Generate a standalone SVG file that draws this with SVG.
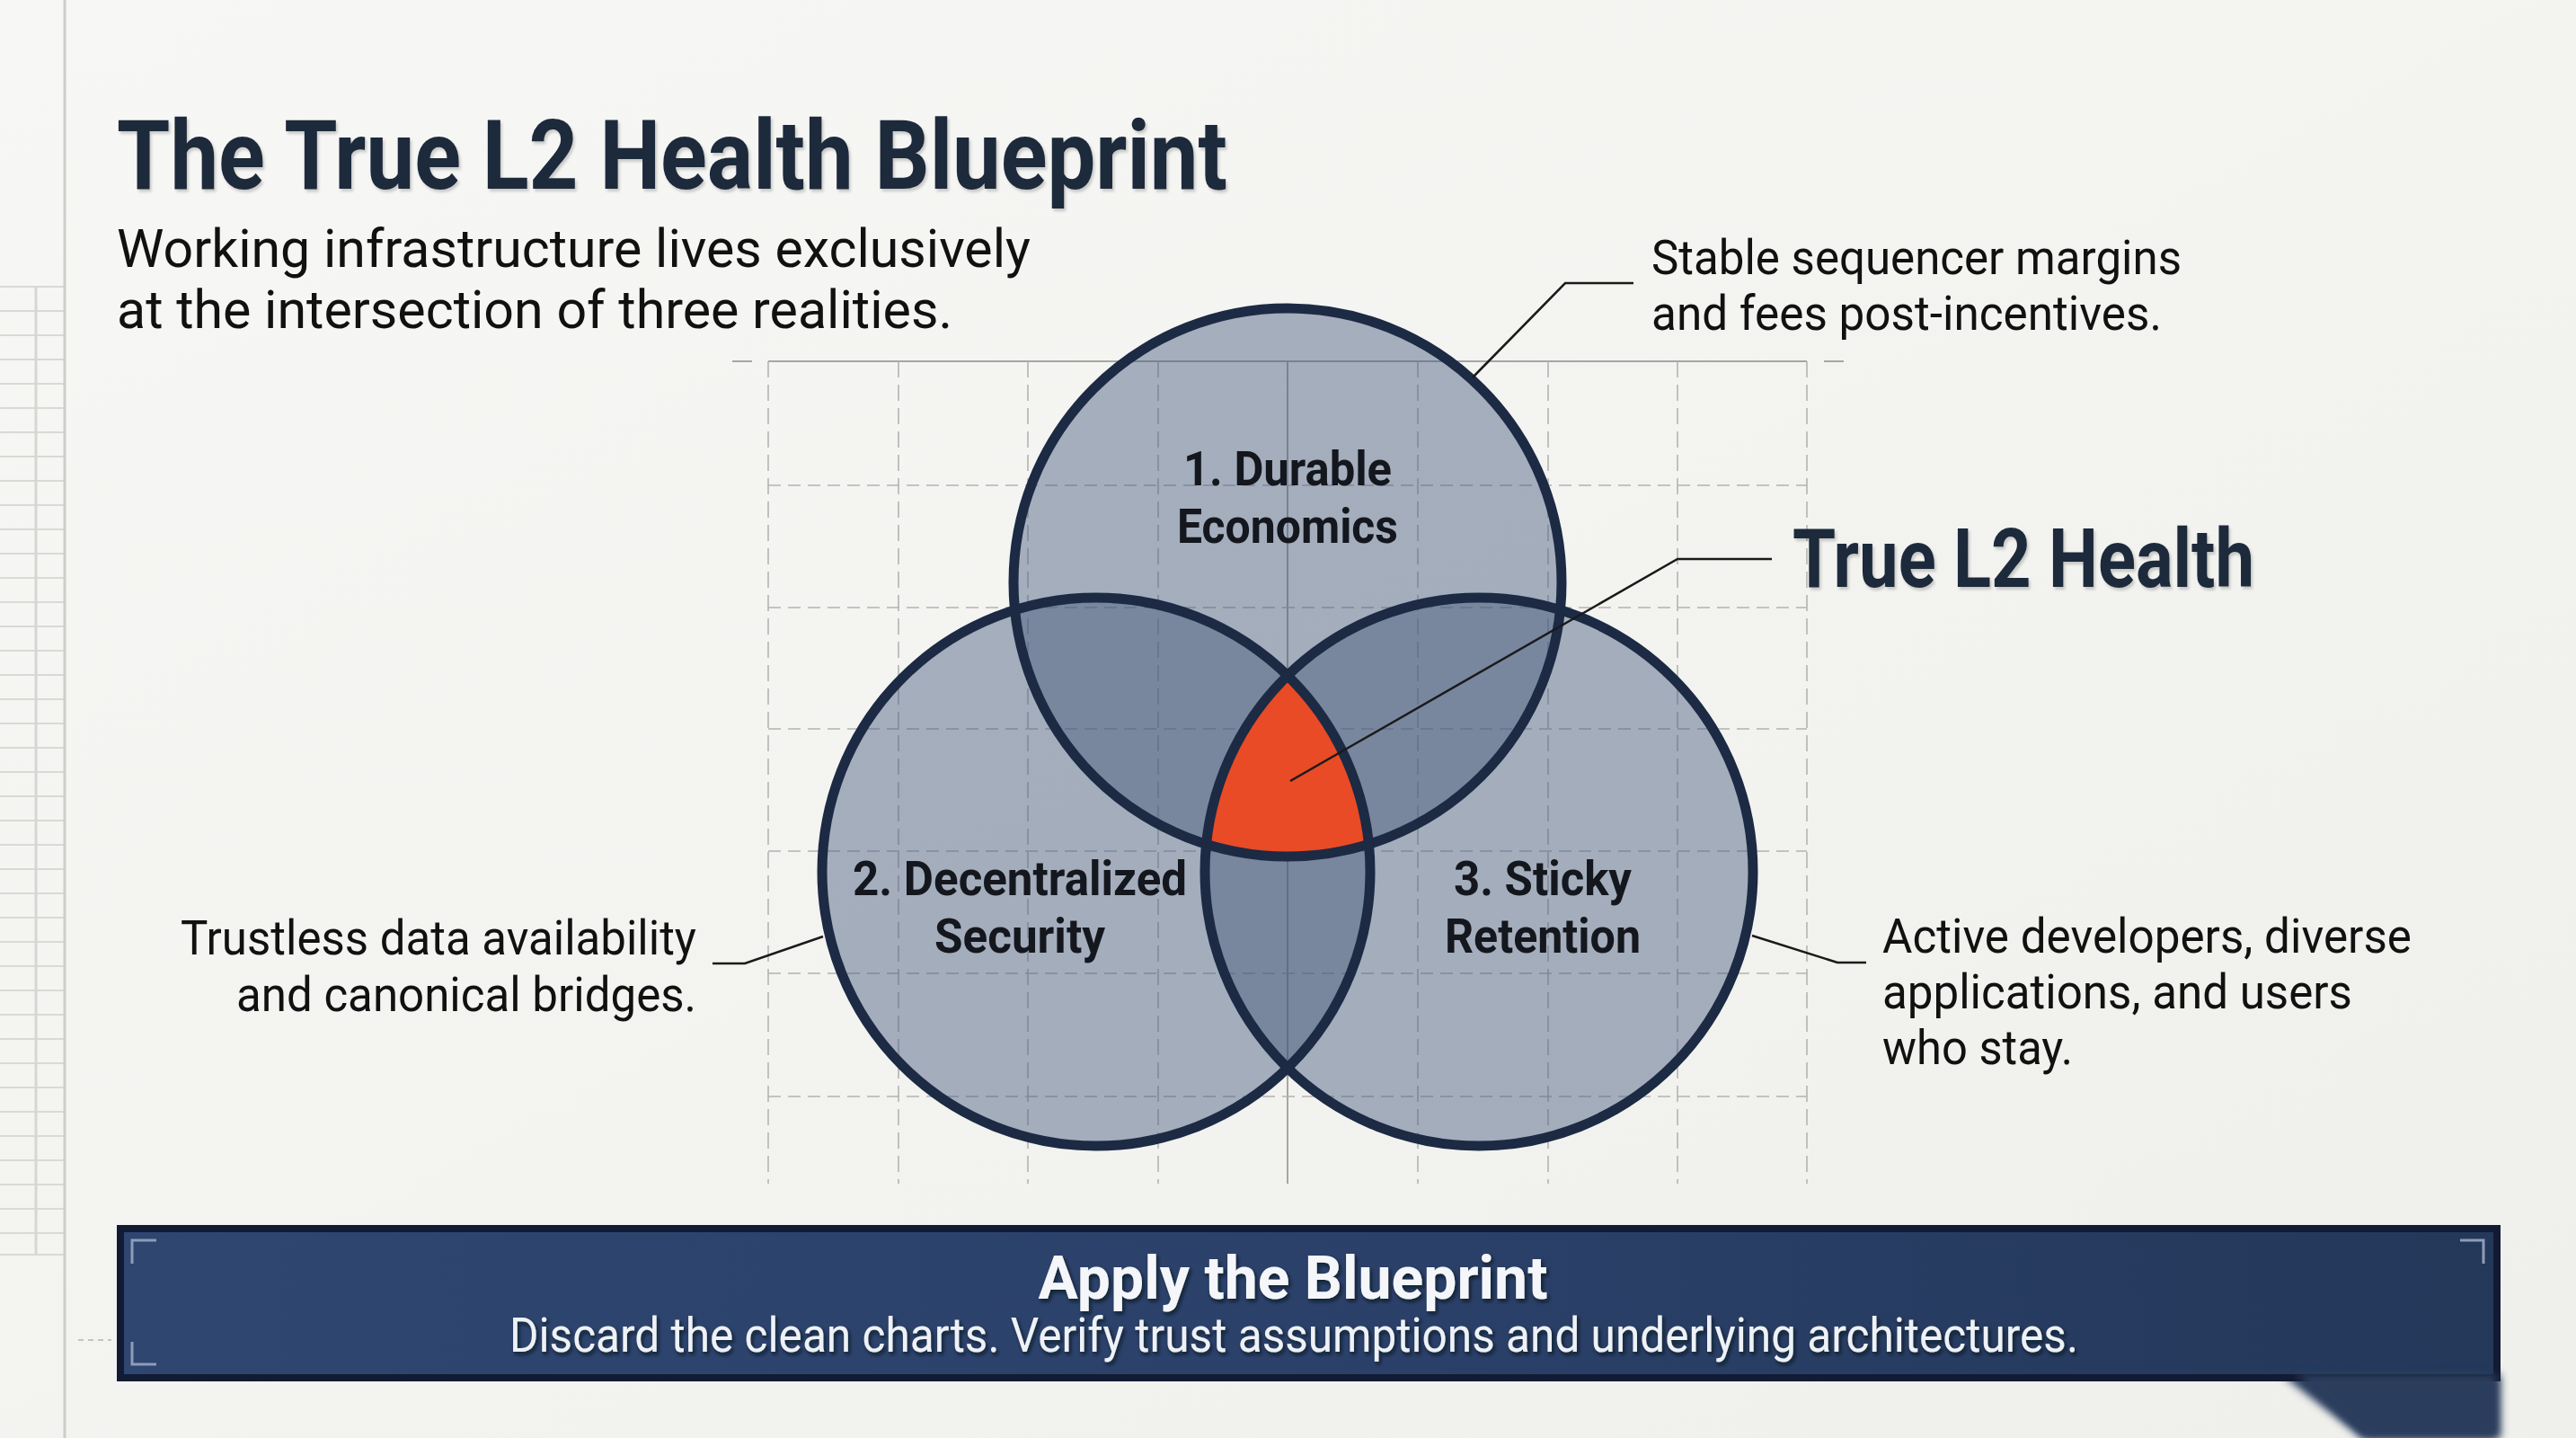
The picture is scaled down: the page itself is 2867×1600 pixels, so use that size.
<svg xmlns="http://www.w3.org/2000/svg" width="2867" height="1600" viewBox="0 0 2867 1600">
  <defs>
    <linearGradient id="bg" x1="0" y1="0" x2="1" y2="1">
      <stop offset="0" stop-color="#f7f7f5"/>
      <stop offset="1" stop-color="#efefec"/>
    </linearGradient>
    <linearGradient id="bannerFill" x1="0" y1="0" x2="1" y2="0">
      <stop offset="0" stop-color="#2e4670"/>
      <stop offset="0.5" stop-color="#2b416a"/>
      <stop offset="1" stop-color="#24385a"/>
    </linearGradient>
    <clipPath id="clipL"><circle cx="1220" cy="970" r="305"/></clipPath>
    <clipPath id="clipR"><circle cx="1646" cy="970" r="305"/></clipPath>
    <filter id="shadow" x="-5%" y="-20%" width="110%" height="150%">
      <feDropShadow dx="2" dy="3" stdDeviation="1.5" flood-color="#000" flood-opacity="0.18"/>
    </filter>
    <filter id="bannerShadow" x="-5%" y="-30%" width="110%" height="160%">
      <feDropShadow dx="2" dy="3" stdDeviation="2" flood-color="#050a18" flood-opacity="0.7"/>
    </filter>
    <filter id="blur" x="-20%" y="-20%" width="140%" height="140%">
      <feGaussianBlur stdDeviation="5"/>
    </filter>
    <style>
      .grid-v { stroke: #b3b3b3; stroke-width: 1.6; stroke-dasharray: 18 8; fill: none; }
      .grid-h { stroke: #b3b3b3; stroke-width: 1.6; stroke-dasharray: 14 8; fill: none; }
      .grid-solid { stroke: #a6a6a6; stroke-width: 2; fill: none; }
      .sheet { stroke: #d9d9d6; stroke-width: 2; fill: none; }
      .set-fill { fill: #3f5478; fill-opacity: 0.44; }
      .set-stroke { fill: none; stroke: #1c2a44; stroke-width: 11; }
      .leader { fill: none; stroke: #1a1a1a; stroke-width: 2.5; }
      .label { font-family: Roboto, "Liberation Sans", sans-serif; font-weight: 700; font-size: 53px; fill: #14171e; text-anchor: middle; }
      .note { font-family: Roboto, "Liberation Sans", sans-serif; font-weight: 400; font-size: 54px; fill: #111; }
      .bracket { fill: none; stroke: #8d9cb8; stroke-width: 3; }
    </style>
  </defs>

  <rect width="2867" height="1600" fill="url(#bg)"/>

  <!-- left spreadsheet decoration -->
  <g id="side-sheet">
    <path class="sheet" d="M0 319H72M0 346H72M0 373H72M0 400H72M0 427H72M0 454H72M0 481H72M0 508H72M0 535H72M0 562H72M0 589H72M0 616H72M0 643H72M0 670H72M0 697H72M0 724H72M0 751H72M0 778H72M0 805H72M0 832H72M0 859H72M0 886H72M0 913H72M0 940H72M0 967H72M0 994H72M0 1021H72M0 1048H72M0 1075H72M0 1102H72M0 1129H72M0 1156H72M0 1183H72M0 1210H72M0 1237H72M0 1264H72M0 1291H72M0 1318H72M0 1345H72M0 1372H72M0 1396H72"/>
    <path d="M40 319V1396" stroke="#d6d6d3" stroke-width="3" fill="none"/>
    <path d="M72 0V1600" stroke="#cdcdca" stroke-width="3" fill="none"/>
    <path d="M87 1491H124" stroke="#c4c4c4" stroke-width="2" stroke-dasharray="6 5" fill="none"/>
  </g>

  <!-- background grid -->
  <g id="grid">
    <path class="grid-solid" d="M855 402H2011"/>
    <path class="grid-solid" d="M815 402H837M2030 402H2052"/>
    <path class="grid-solid" d="M1433 402V1317"/>
    <path class="grid-v" d="M855 402V1317M1000 402V1317M1144 402V1317M1289 402V1317M1578 402V1317M1723 402V1317M1867 402V1317M2011 402V1317"/>
    <path class="grid-h" d="M855 540H2011M855 676H2011M855 811H2011M855 947H2011M855 1083H2011M855 1220H2011"/>
  </g>

  <!-- Venn sets -->
  <g id="set-economics">
    <circle class="set-fill" cx="1433" cy="648" r="305"/>
  </g>
  <g id="set-security">
    <circle class="set-fill" cx="1220" cy="970" r="305"/>
  </g>
  <g id="set-retention">
    <circle class="set-fill" cx="1646" cy="970" r="305"/>
  </g>
  <g id="true-l2-health-core">
    <g clip-path="url(#clipL)">
      <circle cx="1433" cy="648" r="305" fill="#e84b25" clip-path="url(#clipR)"/>
    </g>
  </g>
  <g id="set-outlines">
    <circle class="set-stroke" cx="1433" cy="648" r="305"/>
    <circle class="set-stroke" cx="1220" cy="970" r="305"/>
    <circle class="set-stroke" cx="1646" cy="970" r="305"/>
  </g>

  <!-- connectors -->
  <g id="connectors">
    <path class="leader" d="M1639 420L1742 315H1818"/>
    <path class="leader" d="M1436 869L1867 622H1972"/>
    <path class="leader" d="M916 1042L829 1072H793"/>
    <path class="leader" d="M1950 1041L2045 1071H2077"/>
  </g>

  <!-- set labels -->
  <g id="label-economics">
    <text class="label" x="1433" y="540" textLength="232" lengthAdjust="spacingAndGlyphs">1. Durable</text>
    <text class="label" x="1433" y="604" textLength="246" lengthAdjust="spacingAndGlyphs">Economics</text>
  </g>
  <g id="label-security">
    <text class="label" x="1135" y="996" textLength="372" lengthAdjust="spacingAndGlyphs">2. Decentralized</text>
    <text class="label" x="1135" y="1060" textLength="190" lengthAdjust="spacingAndGlyphs">Security</text>
  </g>
  <g id="label-retention">
    <text class="label" x="1717" y="996" textLength="198" lengthAdjust="spacingAndGlyphs">3. Sticky</text>
    <text class="label" x="1717" y="1060" textLength="218" lengthAdjust="spacingAndGlyphs">Retention</text>
  </g>

  <!-- annotations -->
  <g id="note-economics">
    <text class="note" x="1838" y="305" textLength="590" lengthAdjust="spacingAndGlyphs">Stable sequencer margins</text>
    <text class="note" x="1838" y="367" textLength="568" lengthAdjust="spacingAndGlyphs">and fees post-incentives.</text>
  </g>
  <g id="note-core">
    <text x="1995" y="653" font-family="Roboto, 'Liberation Sans', sans-serif" font-weight="700" font-size="90" fill="#1e293b" textLength="514" lengthAdjust="spacingAndGlyphs" filter="url(#shadow)">True L2 Health</text>
  </g>
  <g id="note-security">
    <text class="note" x="775" y="1062" text-anchor="end" textLength="574" lengthAdjust="spacingAndGlyphs">Trustless data availability</text>
    <text class="note" x="775" y="1125" text-anchor="end" textLength="512" lengthAdjust="spacingAndGlyphs">and canonical bridges.</text>
  </g>
  <g id="note-retention">
    <text class="note" x="2095" y="1060" textLength="589" lengthAdjust="spacingAndGlyphs">Active developers, diverse</text>
    <text class="note" x="2095" y="1122" textLength="523" lengthAdjust="spacingAndGlyphs">applications, and users</text>
    <text class="note" x="2095" y="1184" textLength="212" lengthAdjust="spacingAndGlyphs">who stay.</text>
  </g>

  <!-- title -->
  <g id="title">
    <text x="130" y="210" font-family="Roboto, 'Liberation Sans', sans-serif" font-weight="700" font-size="108" fill="#1e293b" textLength="1236" lengthAdjust="spacingAndGlyphs" filter="url(#shadow)">The True L2 Health Blueprint</text>
    <text x="130" y="297" font-family="Roboto, 'Liberation Sans', sans-serif" font-size="60" fill="#111" textLength="1017" lengthAdjust="spacingAndGlyphs">Working infrastructure lives exclusively</text>
    <text x="130" y="365" font-family="Roboto, 'Liberation Sans', sans-serif" font-size="60" fill="#111" textLength="930" lengthAdjust="spacingAndGlyphs">at the intersection of three realities.</text>
  </g>

  <!-- banner -->
  <g id="banner">
    <polygon points="2540,1530 2783,1530 2783,1600 2630,1600" fill="#293c5d" filter="url(#blur)"/>
    <rect x="130" y="1363" width="2653" height="174" fill="#121b33"/>
    <rect x="138" y="1371" width="2637" height="158" fill="url(#bannerFill)"/>
    <polygon points="2555,1529 2778,1529 2778,1600 2632,1600" fill="#293c5d" filter="url(#blur)"/>
    <path class="bracket" d="M147 1406V1380H174"/>
    <path class="bracket" d="M147 1493V1518H174"/>
    <path class="bracket" d="M2738 1380H2764V1406"/>
    <text x="1439" y="1445" text-anchor="middle" font-family="Roboto, 'Liberation Sans', sans-serif" font-weight="700" font-size="66" fill="#f4f6fa" textLength="567" lengthAdjust="spacingAndGlyphs" filter="url(#bannerShadow)">Apply the Blueprint</text>
    <text x="1440" y="1504" text-anchor="middle" font-family="Roboto, 'Liberation Sans', sans-serif" font-size="54" fill="#eef1f6" textLength="1746" lengthAdjust="spacingAndGlyphs" filter="url(#bannerShadow)">Discard the clean charts. Verify trust assumptions and underlying architectures.</text>
  </g>
</svg>
